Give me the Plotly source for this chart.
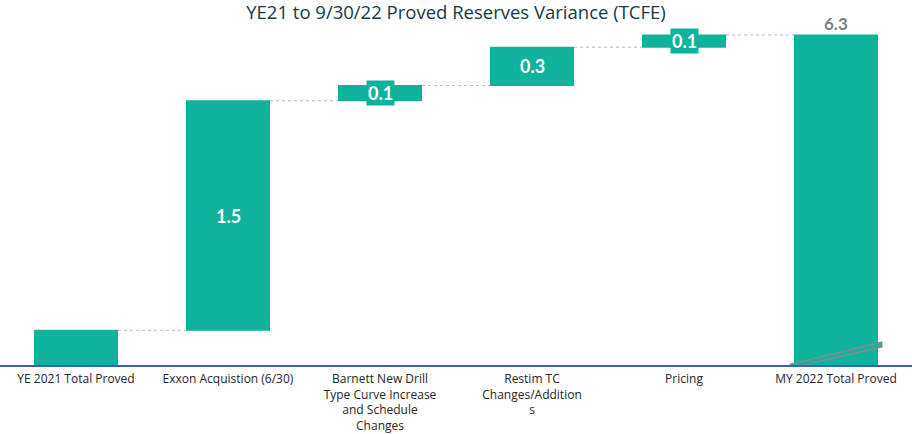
import plotly.graph_objects as go

categories = [
    "YE 2021 Total Proved",
    "Exxon Acquistion (6/30)",
    "Barnett New Drill<br>Type Curve Increase<br>and Schedule<br>Changes",
    "Restim TC<br>Changes/Addition<br>s",
    "Pricing",
    "MY 2022 Total Proved",
]
values = [4.37, 1.5, 0.1, 0.25, 0.08, 6.3]
measures = ["absolute", "relative", "relative", "relative", "relative", "total"]
labels = ["", "1.5", "0.1", "0.3", "0.1", "6.3"]

TEAL = "#0FB39B"
FONT = "Lato, Open Sans, sans-serif"

fig = go.Figure()
fig.add_trace(go.Waterfall(
    x=categories,
    y=values,
    measure=measures,
    increasing=dict(marker=dict(color=TEAL)),
    decreasing=dict(marker=dict(color=TEAL)),
    totals=dict(marker=dict(color=TEAL)),
    connector=dict(line=dict(color="#B8B8DA", width=1, dash="dot")),
    hoverinfo="skip",
))

# labels computed from data
cum = 0.0
for i, (c, v, m, lab) in enumerate(zip(categories, values, measures, labels)):
    if m == "absolute":
        cum = v
        continue
    if m == "relative":
        mid = cum + v / 2
        cum += v
        fig.add_annotation(x=c, y=mid, text="<b>" + lab + "</b>", showarrow=False,
                           font=dict(family=FONT, size=18, color="white"),
                           bgcolor=TEAL, borderpad=1, xanchor="center", yanchor="middle")
    else:
        fig.add_annotation(x=c, y=cum, text="<b>" + lab + "</b>", showarrow=False,
                           font=dict(family=FONT, size=17, color="#7F7F7F"),
                           xanchor="center", yanchor="bottom", yshift=-1)

# axis break mark on the final bar
fig.add_shape(type="path", xref="x", yref="y",
              path="M 4.70,4.148 L 5.30,4.292 L 5.30,4.262 L 4.70,4.122 Z",
              fillcolor=TEAL, line=dict(color="#7F8C8D", width=1.5))

fig.update_layout(
    width=912, height=434,
    margin=dict(l=0, r=0, t=20, b=69),
    paper_bgcolor="white", plot_bgcolor="white",
    showlegend=False,
    waterfallgap=0.447,
    title=dict(text="YE21 to 9/30/22 Proved Reserves Variance (TCFE)",
               x=0.5, xanchor="center", y=1 - 12.5 / 434, yanchor="middle",
               font=dict(family="Open Sans, sans-serif", size=18.5, color="#17394A")),
    xaxis=dict(showgrid=False, showline=True, linecolor="#3B64A6", linewidth=1.5,
               ticks="", automargin=False, ticklabelstandoff=2,
               tickfont=dict(family="Open Sans, sans-serif", size=12, color="#262626"),
               range=[-0.5, 5.5]),
    yaxis=dict(visible=False, range=[4.143, 6.398], showgrid=False, automargin=False),
)

fig.write_html("out.html", config={"displayModeBar": False},
               post_script="document.body.style.margin='0';document.body.style.overflow='hidden';")
